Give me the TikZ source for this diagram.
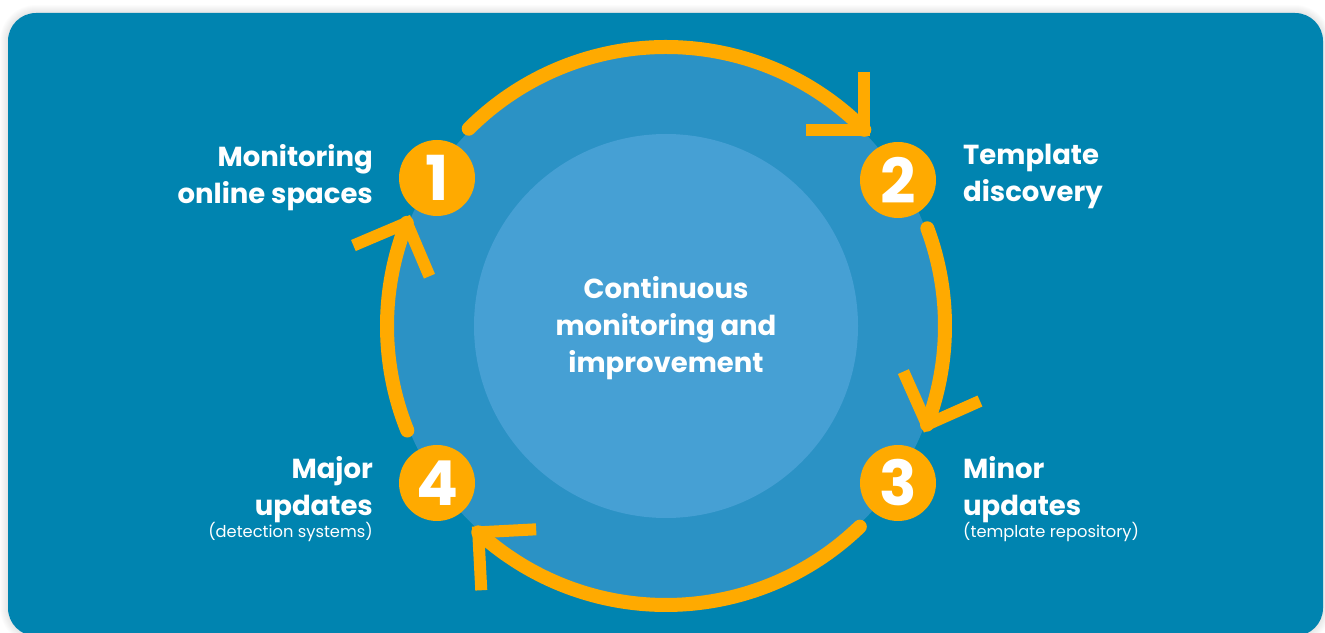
\documentclass[tikz,border=0pt]{standalone}
\usepackage{fontspec}
\setmainfont{Poppins}
\usetikzlibrary{calc}
\definecolor{panel}{RGB}{0,132,176}
\definecolor{ring}{RGB}{43,146,197}
\definecolor{core}{RGB}{70,160,212}
\definecolor{amber}{RGB}{255,170,0}
\begin{document}
\begin{tikzpicture}[x=1pt,y=1pt,
  cyclearc/.style={amber, line width=14pt, line cap=round},
  chevron/.style={amber, line width=12pt, line cap=butt, line join=miter},
  badge/.style={circle, fill=amber, minimum size=76pt, inner sep=0, text=white,
    font=\fontsize{62}{62}\selectfont\bfseries},
  lbl/.style={text=white, inner sep=0, font=\fontsize{27.5}{37}\selectfont\bfseries},
  sublbl/.style={text=white, inner sep=0, font=\fontsize{16.3}{20}\selectfont}]
\useasboundingbox (0,0) rectangle (1325,632);
% soft shadow and panel
\foreach \i in {1,...,8}
  \draw[black, opacity=0.012, line width=2*\i pt, rounded corners=28]
    (8,-4) rectangle (1323,619);
\fill[panel, rounded corners=28] (8,-4) rectangle (1323,619);
% cycle discs
\coordinate (C) at (666,306);
\fill[ring] (C) circle[radius=277];
\fill[core] (C) circle[radius=192];
\node[lbl, align=center] (ctr) at (666,304) {Continuous\\monitoring and\\improvement};
% arc end points
\coordinate (s1) at ($(C)+(135:279)$);
\coordinate (t1) at ($(C)+(44.7:279)$);
\coordinate (s2) at ($(C)+(20.5:279)$);
\coordinate (t2) at ($(C)+(-20.7:279)$);
\coordinate (s3) at ($(C)+(-46:279)$);
\coordinate (t3) at ($(C)+(-132.3:279)$);
\coordinate (s4) at ($(C)+(-158:279)$);
\coordinate (t4) at ($(C)+(158.3:279)$);
% arcs
\draw[cyclearc] (s1) arc[start angle=135, end angle=44.7, radius=279];
\draw[cyclearc] (s2) arc[start angle=20.5, end angle=-20.7, radius=279];
\draw[cyclearc] (s3) arc[start angle=-46, end angle=-132.3, radius=279];
\draw[cyclearc] (s4) arc[start angle=-158, end angle=-201.7, radius=279];
% open arrow heads
\draw[chevron] ($(t1)+(90:58)$) -- (t1) -- ($(t1)+(180:58)$);
\draw[chevron] ($(t2)+(24:58)$) -- (t2) -- ($(t2)+(114:58)$);
\draw[chevron] ($(t3)+(-87:58)$) -- (t3) -- ($(t3)+(3:58)$);
\draw[chevron] ($(t4)+(203:58)$) -- (t4) -- ($(t4)+(293:58)$);
% step badges
\node[badge] (b1) at (437,454) {1};
\node[badge] (b2) at (898,452) {2};
\node[badge] (b3) at (898,149) {3};
\node[badge] (b4) at (437,149) {4};
% step labels
\node[lbl, anchor=north east, align=right] (l1) at (373,488) {Monitoring\\online spaces};
\node[lbl, anchor=north west, align=left] (l2) at (963,488) {Template\\discovery};
\node[lbl, anchor=north west, align=left] (l3) at (963,176) {Minor\\updates};
\node[sublbl, anchor=north west] (d3) at (963,110) {(template repository)};
\node[lbl, anchor=north east, align=right] (l4) at (373,176) {Major\\updates};
\node[sublbl, anchor=north east] (d4) at (373,110) {(detection systems)};
\end{tikzpicture}
\end{document}
